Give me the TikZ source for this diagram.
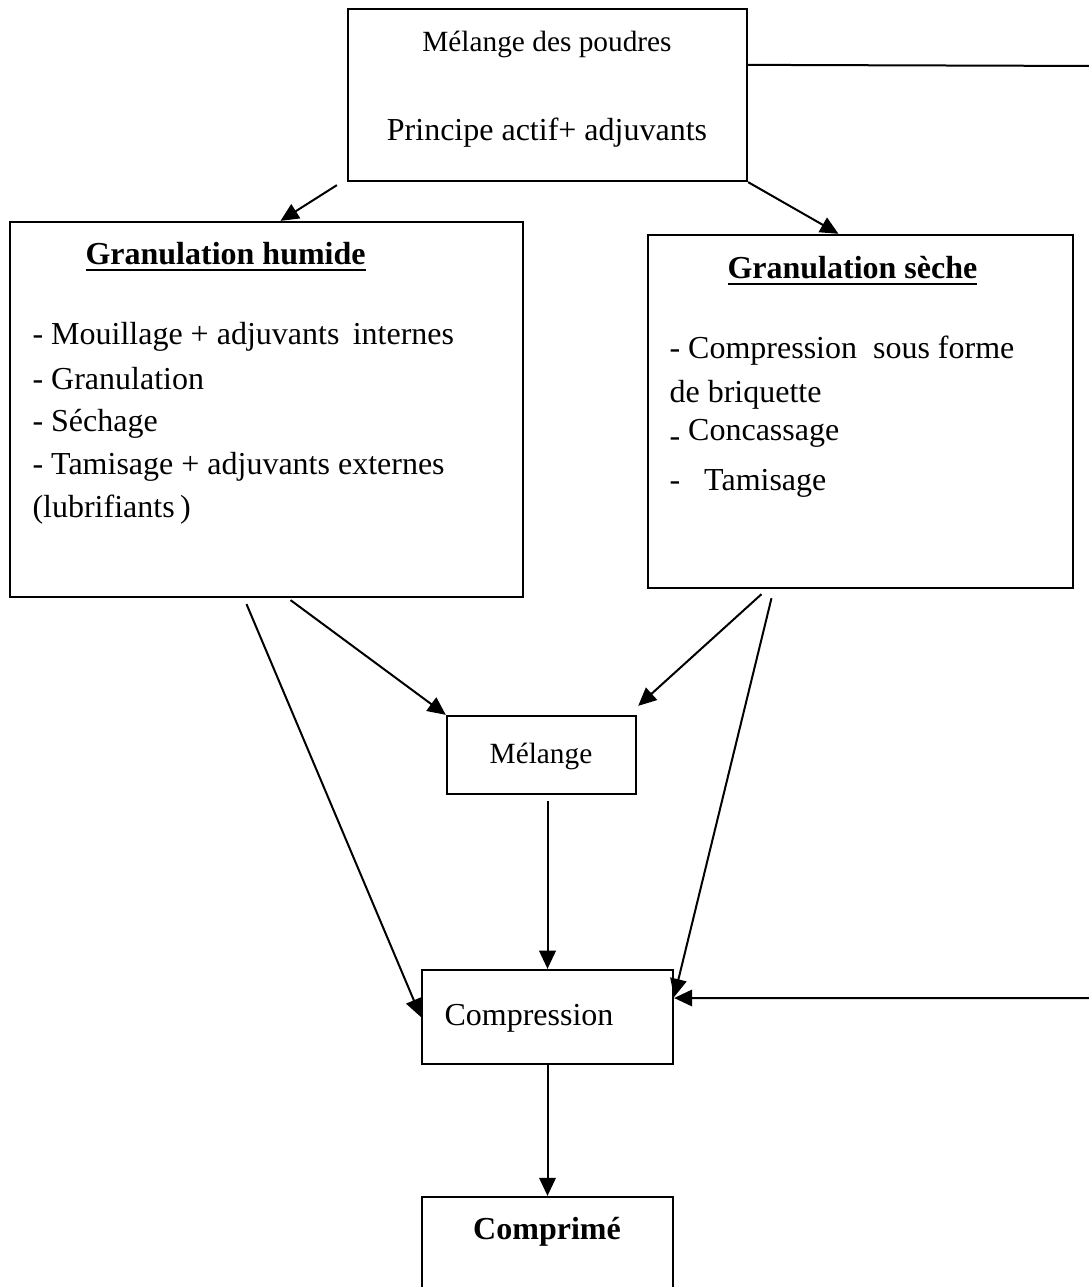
\documentclass[tikz,border=0pt]{standalone}
\usepackage{fontspec}
\setmainfont{Liberation Serif}
\usetikzlibrary{arrows.meta,calc}

\newcommand{\souligne}[1]{\setbox0=\hbox{#1}\rlap{\rule[-2.4pt]{\wd0}{1pt}}\box0}

\begin{document}
\begin{tikzpicture}[x=0.375pt,y=-0.375pt,
  bloc/.style={rectangle,draw,line width=0.85pt,inner sep=0pt},
  ligne/.style={font=\fontsize{12}{14}\selectfont,anchor=base west,inner sep=0pt},
  petit/.style={font=\fontsize{11}{13}\selectfont,anchor=base,inner sep=0pt},
  titre/.style={font=\fontsize{12}{14}\selectfont\bfseries,anchor=base west,inner sep=0pt},
  arr/.style={-{Triangle[length=6.8pt,width=6.2pt]},line width=0.75pt}
]
  \useasboundingbox (0,0) rectangle (1088,1287);

  % ---- Boxes ---------------------------------------------------
  \node[bloc,minimum width=149.6pt,minimum height=64.5pt]  (poudres)     at (547.5,95) {};
  \node[bloc,minimum width=192.4pt,minimum height=140.6pt] (humide)      at (266.5,409.5) {};
  \node[bloc,minimum width=159.4pt,minimum height=132.4pt] (seche)       at (860.5,411.5) {};
  \node[bloc,minimum width=70.9pt,minimum height=29.25pt]  (melange)     at (541.5,755) {};
  \node[bloc,minimum width=94.1pt,minimum height=35.25pt]  (compression) at (547.5,1017) {};
  \node[bloc,minimum width=94.1pt,minimum height=46.1pt]   (comprime)    at (547.5,1258.5) {};

  % Top box text
  \node[petit] (poudresA) at (547,52) {Mélange des poudres};
  \node[petit,font=\fontsize{12}{14}\selectfont] (poudresB) at (547,141)
    {Principe actif+ adjuvants};

  % Granulation humide
  \node[titre] (humideT) at (85,265) {\souligne{Granulation humide}};
  \node[ligne] (hum1) at (32,345) {- Mouillage + adjuvants\,\ internes};
  \node[ligne] (hum2) at (32,389) {- Granulation};
  \node[ligne] (hum3) at (32,431) {- Séchage};
  \node[ligne] (hum4) at (32,474) {- Tamisage + adjuvants externes};
  \node[ligne] (hum5) at (32,517) {(lubrifiants\,)};

  % Granulation seche
  \node[titre] (secheT) at (727,279) {\souligne{Granulation sèche}};
  \node[ligne] (sec1) at (669,358) {- Compression\ \ sous forme};
  \node[ligne] (sec2) at (669,402) {de briquette};
  \node[ligne] (sec3) at (669,440) {\raisebox{-2.5pt}{-} Concassage};
  \node[ligne] (sec4) at (669,490) {-\ \ \ Tamisage};

  % Lower boxes text
  \node[petit] (melangeT) at (541,763) {Mélange};
  \node[ligne] (compressionT) at (444,1025) {Compression};
  \node[ligne,anchor=base,font=\fontsize{12}{14}\selectfont\bfseries] (comprimeT)
    at (547,1239) {Comprimé};

  % ---- Connectors ----------------------------------------------
  \draw[arr] ($(poudres.south west)+(-10,3)$) -- ($(humide.north)+(14,0)$);
  \draw[arr] (poudres.south east) -- ($(seche.north)+(-22,0)$);

  \draw[arr] ($(humide.south)+(24,2)$) -- (melange.north west);
  \draw[arr] ($(humide.south)+(-20,6)$) -- (compression.west);
  \draw[arr] ($(seche.south)+(-99,5)$) -- ($(melange.north east)+(1,-9)$);
  \draw[arr] ($(seche.south)+(-89,9)$) -- ($(compression.east)+(0,-20)$);

  \draw[arr] ($(melange.south)+(6,6)$) -- (compression.north);
  \draw[arr] (compression.south) -- (comprime.north);

  % Direct route (runs off the right edge)
  \coordinate (retourH) at (1100,66);
  \coordinate (retourB) at (1100,998);
  \draw[arr] ($(poudres.north east)+(0,57)$) -- (retourH) -- (retourB)
    -- ($(compression.east)+(0,-19)$);

\end{tikzpicture}
\end{document}
